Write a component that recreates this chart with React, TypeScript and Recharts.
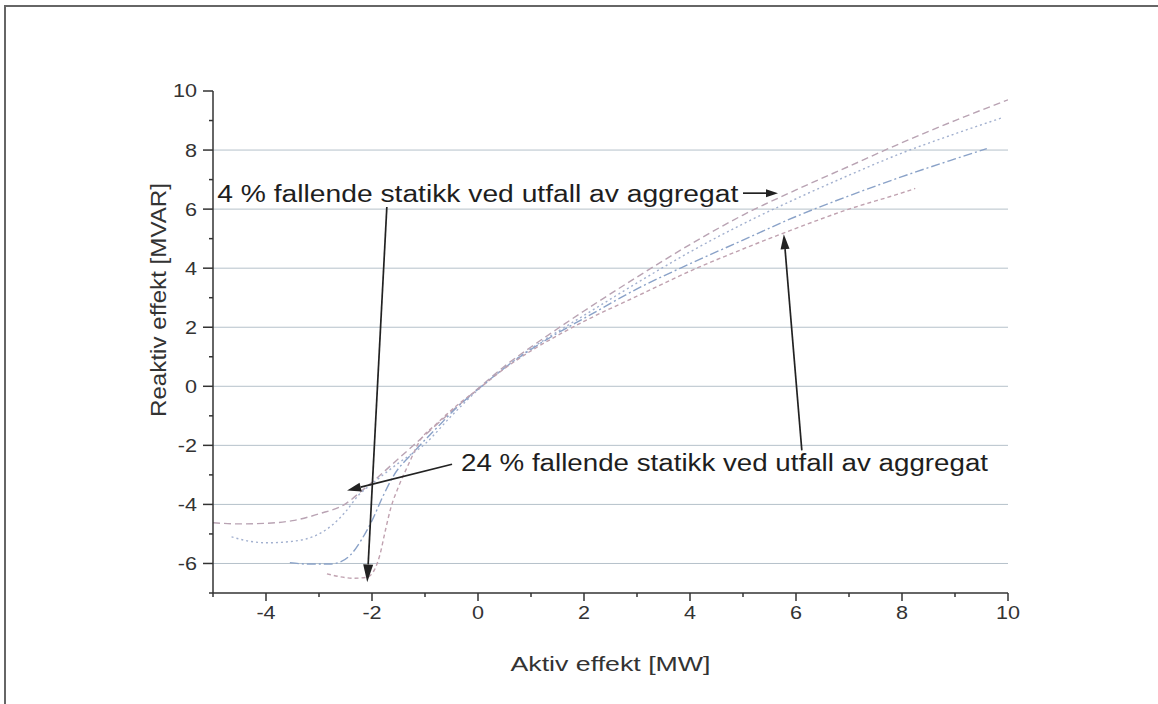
import React from 'react';
import { LineChart, Line, XAxis, YAxis, CartesianGrid, ReferenceLine, ReferenceDot, Label } from 'recharts';

const FONT = '"Liberation Sans", Arial, Helvetica, sans-serif';

// Aktiv effekt [MW] / reaktiv effekt [MVAR] for de fire driftskurvene
const curveAx = [-5, -4.5, -4, -3.5, -3, -2.5, -2.2, -2, -1.5, -1, -0.5, 0, 0.5, 1, 1.5, 2, 3, 4, 5, 6, 7, 8, 9, 10];
const curveAy = [-4.62, -4.66, -4.64, -4.55, -4.32, -3.98, -3.55, -3.25, -2.45, -1.65, -0.85, -0.08, 0.68, 1.33, 1.95, 2.55, 3.7, 4.8, 5.8, 6.65, 7.45, 8.25, 9.0, 9.7];

const curveBx = [-4.65, -4.3, -4, -3.5, -3, -2.75, -2.5, -2.25, -2, -1.5, -1, -0.5, 0, 0.5, 1, 1.5, 2, 3, 4, 5, 6, 7, 8, 9, 9.9];
const curveBy = [-5.1, -5.25, -5.3, -5.25, -5.0, -4.7, -4.25, -3.68, -3.3, -2.6, -1.95, -1.0, -0.12, 0.62, 1.28, 1.85, 2.4, 3.5, 4.55, 5.5, 6.35, 7.15, 7.9, 8.55, 9.1];

const curveCx = [-3.55, -3.2, -2.8, -2.6, -2.4, -2.2, -2, -1.8, -1.6, -1.2, -0.8, -0.4, 0, 0.5, 1, 1.5, 2, 3, 4, 5, 6, 7, 8, 9, 9.6];
const curveCy = [-5.97, -6.02, -6.02, -5.95, -5.7, -5.2, -4.55, -3.75, -3.05, -2.2, -1.45, -0.72, -0.1, 0.62, 1.25, 1.8, 2.3, 3.3, 4.15, 4.95, 5.75, 6.45, 7.1, 7.7, 8.05];

const curveDx = [-2.85, -2.6, -2.35, -2.1, -1.95, -1.85, -1.75, -1.65, -1.5, -1.3, -1.1, -0.8, -0.4, 0, 0.5, 1, 1.5, 2, 3, 4, 5, 6, 7, 8, 8.25];
const curveDy = [-6.35, -6.45, -6.5, -6.47, -6.2, -5.7, -4.9, -4.15, -3.4, -2.6, -1.85, -1.3, -0.65, -0.1, 0.6, 1.2, 1.72, 2.2, 3.05, 3.9, 4.65, 5.35, 6.0, 6.55, 6.7];

const xTicks = [-5, -4, -3, -2, -1, 0, 1, 2, 3, 4, 5, 6, 7, 8, 9, 10];
const yTicks = [-7, -6, -5, -4, -3, -2, -1, 0, 1, 2, 3, 4, 5, 6, 7, 8, 9, 10];
const gridLevels = [-6, -4, -2, 0, 2, 4, 6, 8];

const noteTexts = ['4 % fallende statikk ved utfall av aggregat', '24 % fallende statikk ved utfall av aggregat'];
const notePos = [[-4.92, 6.24], [-0.32, -2.88]];
const arrowSegs = [
  [[5.0, 6.54], [5.66, 6.54]],
  [[-1.72, 6.07], [-2.09, -6.64]],
  [[-0.49, -2.64], [-2.47, -3.53]],
  [[6.11, -2.17], [5.77, 5.15]],
];

const toPoints = (xs: number[], ys: number[]) => xs.map((x, i) => ({ x, q: ys[i] }));

const curves = [
  { key: 'a', data: toPoints(curveAx, curveAy), stroke: '#b9a3b3', dash: '7 4' },
  { key: 'b', data: toPoints(curveBx, curveBy), stroke: '#a2b0cf', dash: '2 3' },
  { key: 'c', data: toPoints(curveCx, curveCy), stroke: '#8aa2c8', dash: '9 3 2 3' },
  { key: 'd', data: toPoints(curveDx, curveDy), stroke: '#c0a2b0', dash: '4 3' },
];

const XTick = ({ x, y, payload }: any) => {
  const v = payload.value;
  const major = v % 2 === 0;
  return (
    <g>
      <line x1={x} y1={y} x2={x} y2={y + (major ? 8 : 4)} stroke="#333" strokeWidth={1.5} />
      {major && (
        <text transform={`translate(${x},${y + 26}) scale(1.2,1)`} textAnchor="middle" fontSize={18} fill="#333" fontFamily={FONT}>
          {v}
        </text>
      )}
    </g>
  );
};

const YTick = ({ x, y, payload }: any) => {
  const v = payload.value;
  const major = v % 2 === 0;
  return (
    <g>
      <line x1={x} y1={y} x2={x - (major ? 10 : 4)} y2={y} stroke="#333" strokeWidth={1.5} />
      {major && (
        <text transform={`translate(${x - 16},${y}) scale(1.2,1)`} dy="0.36em" textAnchor="end" fontSize={18} fill="#333" fontFamily={FONT}>
          {v}
        </text>
      )}
    </g>
  );
};

// pil med fylt spiss i enden (x2, y2)
const Arrow = ({ x1, y1, x2, y2, head = 14, half = 4.5 }: any) => {
  const a = Math.atan2(y2 - y1, x2 - x1);
  const bx = x2 - head * Math.cos(a);
  const by = y2 - head * Math.sin(a);
  const px = -Math.sin(a) * half;
  const py = Math.cos(a) * half;
  return (
    <g>
      <line x1={x1} y1={y1} x2={bx} y2={by} stroke="#222" strokeWidth={1.7} />
      <polygon points={`${x2},${y2} ${bx + px},${by + py} ${bx - px},${by - py}`} fill="#222" />
    </g>
  );
};

const arrowHeads = [[12, 4], [18, 5], [14, 4.5], [15, 4.5]];

export default function App() {
  return (
    <div style={{ position: 'absolute', left: 0, top: 0, width: 1158, height: 704, overflow: 'hidden', background: '#fff' }}>
      <div style={{ position: 'absolute', left: 4, top: 5, width: 1300, height: 900, border: '2px solid #666' }} />
      <LineChart width={1158} height={704} margin={{ top: 91, right: 150, bottom: 81, left: 153 }}>
        <CartesianGrid vertical={false} horizontalValues={gridLevels} stroke="#b5c1ca" strokeWidth={1} />
        <XAxis
          dataKey="x"
          type="number"
          domain={[-5, 10]}
          ticks={xTicks}
          interval={0}
          allowDataOverflow
          height={30}
          tickSize={0}
          tickMargin={0}
          tickLine={false}
          tick={<XTick />}
          axisLine={{ stroke: '#333', strokeWidth: 1.5 }}
        >
          <Label
            content={(p: any) => {
              const vb = p.viewBox;
              return (
                <text x={vb.x + vb.width / 2} y={vb.y + 78} textAnchor="middle" fontSize={21} fill="#333" fontFamily={FONT} textLength={200} lengthAdjust="spacingAndGlyphs">
                  Aktiv effekt [MW]
                </text>
              );
            }}
          />
        </XAxis>
        <YAxis
          type="number"
          domain={[-7, 10]}
          ticks={yTicks}
          interval={0}
          allowDataOverflow
          width={60}
          tickSize={0}
          tickMargin={0}
          tickLine={false}
          tick={<YTick />}
          axisLine={{ stroke: '#333', strokeWidth: 1.5 }}
        >
          <Label
            content={(p: any) => {
              const vb = p.viewBox;
              const cx = vb.x + 5;
              const cy = vb.y + 209;
              return (
                <text transform={`translate(${cx},${cy}) rotate(-90)`} dy="0.35em" textAnchor="middle" fontSize={22} fill="#333" fontFamily={FONT} textLength={234} lengthAdjust="spacingAndGlyphs">
                  Reaktiv effekt [MVAR]
                </text>
              );
            }}
          />
        </YAxis>
        {curves.map((c) => (
          <Line
            key={c.key}
            data={c.data}
            dataKey="q"
            type="monotone"
            stroke={c.stroke}
            strokeWidth={1.4}
            strokeDasharray={c.dash}
            dot={false}
            activeDot={false}
            isAnimationActive={false}
          />
        ))}
        {arrowSegs.map((s, i) => (
          <ReferenceLine
            key={`arrow-${i}`}
            segment={[{ x: s[0][0], y: s[0][1] }, { x: s[1][0], y: s[1][1] }]}
            ifOverflow="visible"
            shape={(p: any) => <Arrow {...p} head={arrowHeads[i][0]} half={arrowHeads[i][1]} />}
          />
        ))}
        {noteTexts.map((t, i) => (
          <ReferenceDot
            key={`note-${i}`}
            x={notePos[i][0]}
            y={notePos[i][1]}
            r={0}
            ifOverflow="visible"
            shape={(p: any) => (
              <text x={p.cx} y={p.cy} fontSize={23} fill="#1e1e1e" fontFamily={FONT} textLength={i === 0 ? 521 : 527} lengthAdjust="spacingAndGlyphs">
                {t}
              </text>
            )}
          />
        ))}
      </LineChart>
    </div>
  );
}
